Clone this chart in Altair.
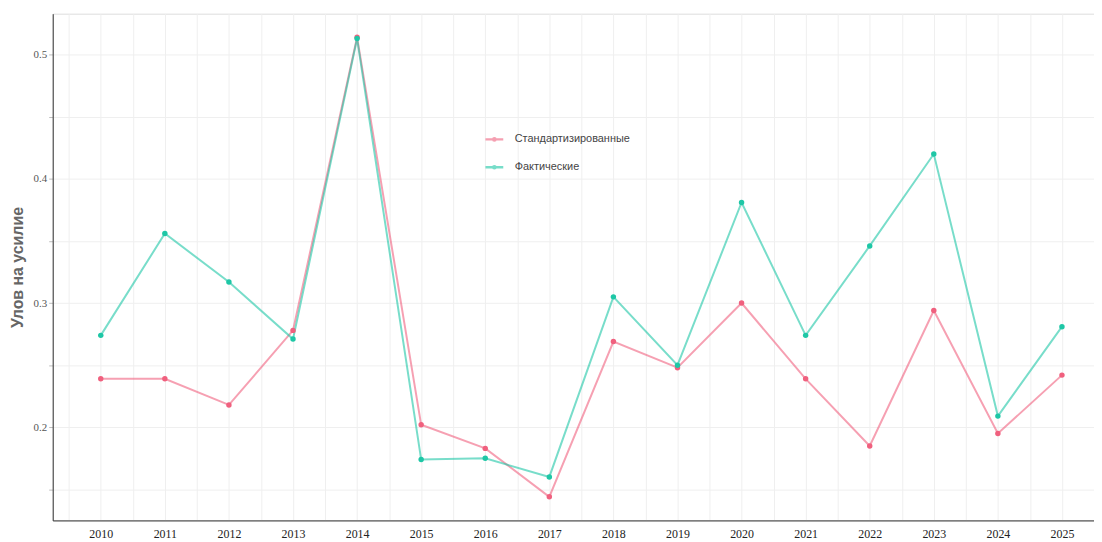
import altair as alt
import pandas as pd

years = list(range(2010, 2026))
standardized = [0.239, 0.239, 0.218, 0.278, 0.514, 0.202, 0.183, 0.144,
                0.269, 0.248, 0.300, 0.239, 0.185, 0.294, 0.195, 0.242]
actual = [0.274, 0.356, 0.317, 0.271, 0.513, 0.174, 0.175, 0.160,
          0.305, 0.250, 0.381, 0.274, 0.346, 0.420, 0.209, 0.281]
series_names = ["Стандартизированные", "Фактические"]
series_colors = ["#F0607E", "#1EC7A6"]

df = pd.DataFrame({
    "year": years * 2,
    "value": standardized + actual,
    "series": [series_names[0]] * len(years) + [series_names[1]] * len(years),
})

x_grid_vals = [y + h for y in range(2009, 2026) for h in (0.0, 0.5) if 2009.25 <= y + h <= 2025.5]
y_grid_vals = [0.15, 0.2, 0.25, 0.3, 0.35, 0.4, 0.45, 0.5]

x = alt.X("year:Q",
          scale=alt.Scale(domain=[2009.25, 2025.5], nice=False, zero=False),
          axis=alt.Axis(title=None, values=x_grid_vals,
                        labelExpr="datum.value % 1 == 0 ? format(datum.value, 'd') : ''",
                        ticks=False, domain=True, domainColor="#333", labelFont="Liberation Serif",
                        labelFontSize=12, labelColor="#222", labelPadding=8,
                        gridColor="#efefef", gridWidth=1))
y = alt.Y("value:Q",
          scale=alt.Scale(domain=[0.125, 0.533], nice=False, zero=False),
          axis=alt.Axis(title="Улов на усилие", values=y_grid_vals,
                        labelExpr="(round(datum.value*100) % 10 == 0) ? format(datum.value, '.1f') : ''",
                        tickSize=4, tickColor="#bbb", domain=True, domainColor="#333",
                        labelFont="Liberation Serif", labelFontSize=11, labelColor="#555",
                        titleFont="Liberation Sans", titleFontSize=16, titleFontWeight="bold",
                        titleColor="#666", titlePadding=8, gridColor="#efefef", gridWidth=1))

color = alt.Color("series:N", scale=alt.Scale(domain=series_names, range=series_colors),
                  legend=alt.Legend(title=None, orient="none", legendX=434, legendY=116,
                                    symbolType="M-1,0L1,0M-0.12,0A0.12,0.12 0 1,1 0.12,0A0.12,0.12 0 1,1 -0.12,0",
                                    symbolSize=320, symbolStrokeWidth=2.5,
                                    labelFont="Liberation Sans", labelFontSize=11,
                                    labelColor="#444", rowPadding=11, labelOffset=10))

lines = alt.Chart(df).mark_line(strokeWidth=2, opacity=0.6).encode(
    x=x, y=y, color=color,
)

points = alt.Chart(df).mark_circle(size=30, opacity=1).encode(
    x=x, y=y,
    color=alt.Color("series:N", scale=alt.Scale(domain=series_names, range=series_colors), legend=None),
)

chart = alt.layer(lines, points).properties(
    width=1048, height=510,
    autosize=alt.AutoSizeParams(type="none"),
    padding={"left": 45, "top": 4, "right": 0, "bottom": 22},
).configure_view(stroke="#222", strokeWidth=1).configure(background="white")

chart.save("out.html", embed_options={"renderer": "svg", "actions": False})
